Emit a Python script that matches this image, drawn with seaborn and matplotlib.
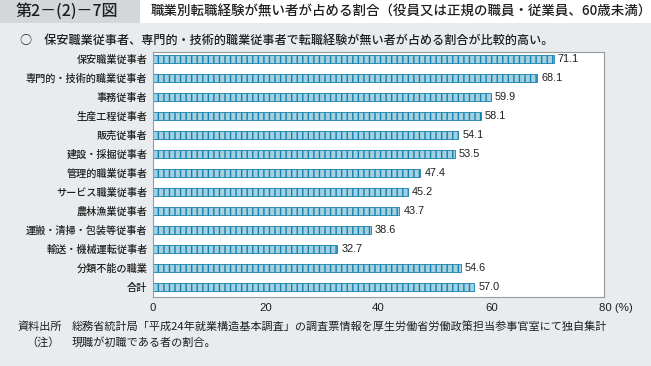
import pandas as pd
import matplotlib.pyplot as plt
import seaborn as sns
from matplotlib.patches import Rectangle
from matplotlib.transforms import ScaledTranslation

occupations = ["保安職業従事者", "専門的・技術的職業従事者", "事務従事者", "生産工程従事者",
               "販売従事者", "建設・採掘従事者", "管理的職業従事者", "サービス職業従事者",
               "農林漁業従事者", "運搬・清掃・包装等従事者", "輸送・機械運転従事者",
               "分類不能の職業", "合計"]
shares = [71.1, 68.1, 59.9, 58.1, 54.1, 53.5, 47.4, 45.2, 43.7, 38.6, 32.7, 54.6, 57.0]
x_ticks = [0, 20, 40, 60, 80]

df = pd.DataFrame({"occupation": occupations, "share": shares})

sns.set_style("white")
plt.rcParams['font.family'] = ['Noto Sans CJK JP', 'DejaVu Sans']
plt.rcParams['hatch.linewidth'] = 1.0

bg = "#e9ecee"
ink = "#1e1e1e"
fig = plt.figure(figsize=(6.51, 3.66), dpi=100, facecolor=bg)

# header boxes
fig.patches.append(Rectangle((0, 1 - 23 / 366), 140 / 651, 23 / 366, transform=fig.transFigure,
                             facecolor="#d3d7da", edgecolor="none"))
fig.patches.append(Rectangle((140 / 651, 1 - 23 / 366), 511 / 651, 23 / 366, transform=fig.transFigure,
                             facecolor="white", edgecolor="none"))
fig.text(16 / 651, 1 - 11.5 / 366, "第2－(2)－7図", fontsize=11.5, va="center", color=ink, weight="medium")
fig.text(151 / 651, 1 - 11.5 / 366, "職業別転職経験が無い者が占める割合（役員又は正規の職員・従業員、60歳未満）",
         fontsize=9.7, va="center", color=ink, weight="medium")
fig.text(20 / 651, 1 - 40 / 366, "○　保安職業従事者、専門的・技術的職業従事者で転職経験が無い者が占める割合が比較的高い。",
         fontsize=8.7, va="center", color=ink, weight="medium")

ax = fig.add_axes([153 / 651, 1 - 297 / 366, 451 / 651, 245 / 366])
ax.set_facecolor("white")
sns.barplot(data=df, y="occupation", x="share", orient="h", ax=ax, width=0.38,
            color="#9ad6ea", edgecolor="#1580b0", linewidth=0.6)
for p in ax.patches:
    p.set_hatch("|||")

ax.bar_label(ax.containers[0], labels=[f"{v:.1f}" for v in shares], padding=3,
             fontsize=7.8, family="Liberation Sans", color=ink)

ax.set_xlim(0, 80)
ax.set_ylim(12.53, -0.37)
ax.set_xticks(x_ticks)
ax.set_xticklabels([str(t) for t in x_ticks[:-1]] + ["80 (%)"], family="Liberation Sans")
ax.tick_params(axis="x", labelsize=8.2, length=0, pad=4, colors=ink)
ax.tick_params(axis="y", labelsize=7.3, length=0, pad=4, colors=ink)
for t in ax.get_yticklabels():
    t.set_weight("medium")
ax.set_xlabel("")
ax.set_ylabel("")
for s in ax.spines.values():
    s.set_color("#9a9a9a")
    s.set_linewidth(0.8)
# keep "(%)" from shifting the 80 label off its tick
lbls = ax.get_xticklabels()
lbls[-1].set_horizontalalignment("left")
lbls[-1].set_transform(lbls[-1].get_transform() + ScaledTranslation(-5 / 100, 0, fig.dpi_scale_trans))

fig.text(18 / 651, 1 - 327 / 366, "資料出所", fontsize=8, va="center", color=ink)
fig.text(60 / 651, 1 - 342 / 366, "（注）", fontsize=8, va="center", ha="right", color=ink)
fig.text(72 / 651, 1 - 327 / 366, "総務省統計局「平成24年就業構造基本調査」の調査票情報を厚生労働省労働政策担当参事官室にて独自集計",
         fontsize=8, va="center", color=ink)
fig.text(72 / 651, 1 - 342 / 366, "現職が初職である者の割合。", fontsize=8, va="center", color=ink)

fig.savefig("out.png", dpi=100, facecolor=bg)
